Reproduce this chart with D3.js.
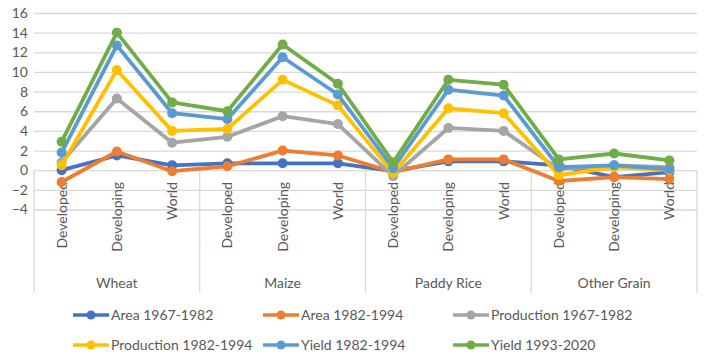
<!DOCTYPE html>
<html>
<head>
<meta charset="utf-8">
<script src="https://cdn.jsdelivr.net/npm/d3@7"></script>
<style>
	body { margin: 0; background: #fff; }
	svg text { font-family: Lato, "Open Sans", sans-serif; fill: #595959; }
</style>
</head>
<body>
<div id="graphic"></div>
<script>
// chart data
const groups = ["Wheat", "Maize", "Paddy Rice", "Other Grain"];
const regions = ["Developed", "Developing", "World"];
const seriesNames = ["Area 1967-1982", "Area 1982-1994", "Production 1967-1982", "Production 1982-1994", "Yield 1982-1994", "Yield 1993-2020"];
const colours = ["#4472C4", "#ED7D31", "#A5A5A5", "#FFC000", "#5B9BD5", "#70AD47"];

const area6782 = [0.0, 1.5, 0.5, 0.7, 0.7, 0.7, -0.1, 0.9, 0.9, 0.5, -0.7, -0.2];
const area8294 = [-1.2, 1.9, -0.1, 0.4, 2.0, 1.5, -0.2, 1.1, 1.1, -1.1, -0.7, -0.9];
const prod6782 = [0.8, 7.3, 2.8, 3.4, 5.5, 4.7, -0.6, 4.3, 4.0, 0.1, 0.5, 0.3];
const prod8294 = [0.5, 10.2, 4.0, 4.2, 9.2, 6.6, -0.3, 6.3, 5.8, -0.5, 0.3, 0.0];
const yield8294 = [1.8, 12.7, 5.8, 5.2, 11.5, 7.7, 0.2, 8.2, 7.6, 0.3, 0.5, 0.1];
const yield9320 = [2.9, 14.0, 6.9, 6.0, 12.8, 8.8, 0.8, 9.2, 8.7, 1.1, 1.7, 1.0];

const yTicks = [-4, -2, 0, 2, 4, 6, 8, 10, 12, 14, 16];

const seriesValues = [area6782, area8294, prod6782, prod8294, yield8294, yield9320];

// one key per point on the category axis
const keys = groups.flatMap((g) => regions.map((r) => g + "|" + r));

const width = 706, height = 363;
const plot = { left: 34, right: 697, top: 13, bottom: 209.5 };

let svg = d3.select("#graphic")
	.append("svg")
	.attr("width", width)
	.attr("height", height);

//set up scales
const x = d3.scaleBand()
	.domain(keys)
	.range([plot.left, plot.right])
	.paddingInner(0)
	.paddingOuter(0);

const xGroup = d3.scaleBand()
	.domain(groups)
	.range([plot.left, plot.right]);

const y = d3.scaleLinear()
	.domain([-4, 16])
	.range([plot.bottom, plot.top]);

// gridlines + y labels
const yAxis = d3.axisLeft(y)
	.tickValues(yTicks)
	.tickSize(-(plot.right - plot.left))
	.tickPadding(6)
	.tickFormat(d3.format("d"));

svg.append("g")
	.attr("transform", `translate(${plot.left},0)`)
	.call(yAxis)
	.call((g) => g.select(".domain").remove())
	.call((g) => g.selectAll("line").attr("stroke", "#d9d9d9").attr("stroke-width", 1.3))
	.call((g) => g.selectAll("text").style("font-size", "14px").attr("fill", "#595959"));

// group separators hanging from the zero line
const bounds = groups.map((g) => xGroup(g)).concat([plot.right]);
svg.append("g")
	.selectAll("line")
	.data(bounds)
	.join("line")
	.attr("x1", (d) => d)
	.attr("x2", (d) => d)
	.attr("y1", y(0))
	.attr("y2", 293)
	.attr("stroke", "#d9d9d9")
	.attr("stroke-width", 1.3);

// inner category labels (rotated)
svg.append("g")
	.selectAll("text")
	.data(keys)
	.join("text")
	.attr("transform", (d) => `translate(${x(d) + x.bandwidth() / 2},182) rotate(-90)`)
	.attr("text-anchor", "end")
	.attr("dy", "0.35em")
	.style("font-size", "14px")
	.text((d) => d.split("|")[1]);

// outer group labels
svg.append("g")
	.selectAll("text")
	.data(groups)
	.join("text")
	.attr("x", (d) => xGroup(d) + xGroup.bandwidth() / 2)
	.attr("y", 283)
	.attr("text-anchor", "middle")
	.attr("dy", "0.35em")
	.style("font-size", "14px")
	.text((d) => d);

// lines and markers
const line = d3.line()
	.x((d, i) => x(keys[i]) + x.bandwidth() / 2)
	.y((d) => y(d));

let seriesG = svg.append("g")
	.selectAll("g")
	.data(seriesValues)
	.join("g");

seriesG.append("path")
	.attr("d", (d) => line(d))
	.attr("fill", "none")
	.attr("stroke", (d, i) => colours[i])
	.attr("stroke-width", 3.8)
	.attr("stroke-linejoin", "round");

seriesG.selectAll("circle")
	.data((d, i) => d.map((v, j) => ({ v: v, j: j, c: colours[i] })))
	.join("circle")
	.attr("cx", (d) => x(keys[d.j]) + x.bandwidth() / 2)
	.attr("cy", (d) => y(d.v))
	.attr("r", 5)
	.attr("fill", (d) => d.c);

// legend, 3 per row
const legendX = [73, 263, 453];
const legendY = [315, 345];

let legenditem = svg.append("g")
	.selectAll("g")
	.data(seriesNames)
	.join("g")
	.attr("transform", (d, i) => `translate(${legendX[i % 3]},${legendY[Math.floor(i / 3)]})`);

legenditem.append("line")
	.attr("x1", 0)
	.attr("x2", 36)
	.attr("stroke", (d, i) => colours[i])
	.attr("stroke-width", 3.5);

legenditem.append("circle")
	.attr("cx", 18)
	.attr("r", 4.5)
	.attr("fill", (d, i) => colours[i]);

legenditem.append("text")
	.attr("x", 38)
	.attr("dy", "0.35em")
	.style("font-size", "14px")
	.text((d) => d);
</script>
</body>
</html>
